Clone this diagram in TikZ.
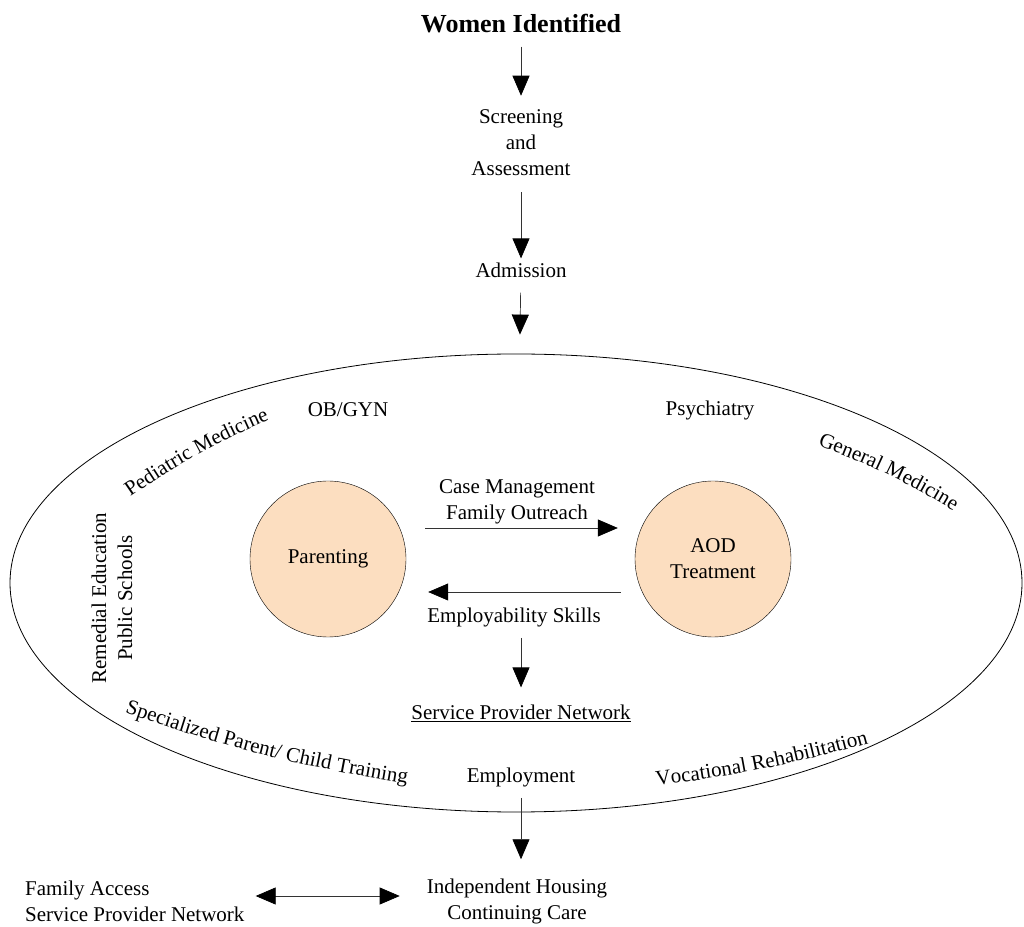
\documentclass[tikz,border=0pt]{standalone}
\usepackage{fontspec}
\setmainfont{Liberation Serif}
\usetikzlibrary{arrows.meta,shapes.geometric,decorations.text}
\newcommand{\lblfont}{\fontsize{21}{26}\selectfont}
\definecolor{peach}{RGB}{252,222,192}
\tikzset{
  lbl/.style={font=\lblfont, inner sep=2pt, align=center},
  hub/.style={draw, circle, fill=peach, minimum size=156pt, inner sep=0pt, font=\lblfont, align=center},
  tip/.tip={Triangle[length=20pt,width=17pt,color=black]},
  flow/.style={-tip, line width=0.7pt, draw=black!80},
  twoway/.style={tip-tip, line width=0.7pt, draw=black!80},
  curved/.style={decorate, decoration={text along path, text align=center, text={|\lblfont|#1}}}
}

\begin{document}
\begin{tikzpicture}[x=1pt, y=1pt]
\useasboundingbox (0,0) rectangle (1024,926);
% Intake path
\node[font=\bfseries\fontsize{26}{30}\selectfont, inner sep=2pt] (women) at (521,902) {Women Identified};
\node[lbl] (screen) at (521,783) {Screening\\and\\Assessment};
\node[lbl] (admit) at (521,656) {Admission};

% Service ring
\node[draw, ellipse, minimum width=1012pt, minimum height=458pt, inner sep=0pt, line width=0.8pt] (ring) at (516,343) {};
\node[hub] (parent) at (328,367) {Parenting};
\node[hub] (aod) at (713,367) {AOD\\Treatment};

\node[lbl] (obgyn) at (348,516) {OB/GYN};
\node[lbl] (psych) at (710,516) {Psychiatry};
\node[lbl, rotate=90] (remed) at (112,328) {Remedial Education\\Public Schools};
\node[lbl] (casemgmt) at (517,424) {Case Management\\Family Outreach};
\node[lbl] (skills) at (514,309) {Employability Skills};
\node[lbl] (spn) at (521,213) {\underline{Service Provider Network}};
\node[lbl] (employ) at (521,149) {Employment};

% labels that follow the ring
\path[curved=Pediatric Medicine] (120,422) to[bend left=6] (281,511);
\path[curved=General Medicine] (803,486) to[bend left=6] (967,407);
\path[curved=Specialized Parent/ Child Training] (117,216) to[bend right=5] (415,141);
\path[curved=Vocational Rehabilitation] (648,139) to[bend right=4] (877,185);

% Exit
\node[lbl] (house) at (517,25) {Independent Housing\\Continuing Care};
\node[lbl, align=left, anchor=west] (access) at (23,25) {Family Access\\Service Provider Network};

% Arrows
\draw[flow, shorten <=11pt, shorten >=12pt] (women) -- (screen);
\draw[flow, shorten <=14pt, shorten >=2pt] (screen) -- (admit);
\draw[flow, shorten <=13pt, shorten >=19pt] (admit) -- (ring);
\draw[flow, shorten <=19pt, shorten >=17pt] ([yshift=31pt]parent.east) -- ([yshift=31pt]aod.west);
\draw[flow, shorten <=14pt, shorten >=22pt] ([yshift=-33pt]aod.west) -- ([yshift=-33pt]parent.east);
\draw[flow, shorten <=9pt, shorten >=15pt] (spn |- skills.south) -- (spn.north);
\draw[flow, shorten <=9pt, shorten >=17pt] (employ.south) -- (employ |- house.north);
\draw[twoway, shorten <=9pt, shorten >=25pt] ([yshift=5pt]access.east) -- ([yshift=5pt]house.west);

\end{tikzpicture}
\end{document}
